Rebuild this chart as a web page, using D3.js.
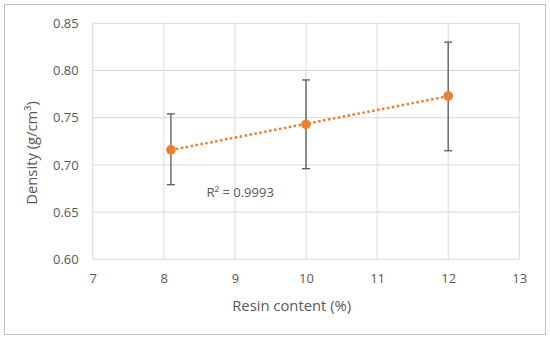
<!DOCTYPE html>
<html>
<head>
<meta charset="utf-8">
<title>density</title>
<script src="https://cdn.jsdelivr.net/npm/d3@7/dist/d3.min.js"></script>
<style>
body { margin: 0; background: #fff; }
text { font-family: "Open Sans", "Liberation Sans", sans-serif; fill: #595959; }
</style>
</head>
<body>
<svg width="550" height="340"></svg>
<script>

// data
var resin = [8.1, 10, 12];
var density = [0.716, 0.743, 0.773];
var errTop = [0.754, 0.790, 0.830];
var errBottom = [0.679, 0.696, 0.715];
var xTicks = [7, 8, 9, 10, 11, 12, 13];
var yTicks = [0.60, 0.65, 0.70, 0.75, 0.80, 0.85];
var r2Label = "R\u00b2 = 0.9993";

var svg = d3.select("svg");

var x = d3.scaleLinear().domain([7, 13]).range([92.7, 519.3]);
var y = d3.scaleLinear().domain([0.60, 0.85]).range([259.3, 23.3]);

// chart border
svg.append("rect")
.attr("x", 4.5).attr("y", 4.5)
.attr("width", 541).attr("height", 330)
.attr("fill", "#fff")
.attr("stroke", "#bfbfbf")
.attr("stroke-width", 1);

// gridlines
svg.append("g").selectAll("line.v")
.data(xTicks)
.enter().append("line")
.attr("x1", function(d) { return x(d); })
.attr("x2", function(d) { return x(d); })
.attr("y1", y(0.60)).attr("y2", y(0.85))
.attr("stroke", "#d9d9d9").attr("stroke-width", 1);

svg.append("g").selectAll("line.h")
.data(yTicks)
.enter().append("line")
.attr("x1", x(7)).attr("x2", x(13))
.attr("y1", function(d) { return y(d); })
.attr("y2", function(d) { return y(d); })
.attr("stroke", "#d9d9d9").attr("stroke-width", 1);

// axes (labels only, lines hidden)
var xAxis = svg.append("g")
.attr("transform", "translate(0," + y(0.60) + ")")
.call(d3.axisBottom(x).tickValues(xTicks).tickSize(0).tickPadding(14).tickFormat(d3.format("d")));
var yAxis = svg.append("g")
.attr("transform", "translate(" + x(7) + ",0)")
.call(d3.axisLeft(y).tickValues(yTicks).tickSize(0).tickPadding(14).tickFormat(d3.format(".2f")));
[xAxis, yAxis].forEach(function(a) {
a.select(".domain").remove();
a.selectAll("text").attr("font-size", 13).attr("fill", "#595959")
.style("font-family", "'Open Sans', 'Liberation Sans', sans-serif");
});

// axis titles
svg.append("text")
.attr("x", 291.7).attr("y", 311)
.attr("text-anchor", "middle")
.attr("font-size", 14.8)
.text("Resin content (%)");

svg.append("text")
.attr("transform", "translate(37,153) rotate(-90)")
.attr("text-anchor", "middle")
.attr("font-size", 14.8)
.text("Density (g/cm\u00b3)");

// linear trendline through the points
var n = resin.length;
var mx = d3.mean(resin), my = d3.mean(density);
var sxy = 0, sxx = 0;
for (var i = 0; i < n; i++) {
sxy += (resin[i] - mx) * (density[i] - my);
sxx += (resin[i] - mx) * (resin[i] - mx);
}
var slope = sxy / sxx;
var icpt = my - slope * mx;
var x0 = d3.min(resin), x1 = d3.max(resin);

svg.append("line")
.attr("x1", x(x0)).attr("y1", y(icpt + slope * x0))
.attr("x2", x(x1)).attr("y2", y(icpt + slope * x1))
.attr("stroke", "#ed7d31")
.attr("stroke-width", 2.5)
.attr("stroke-dasharray", "2.5,2.5");

// error bars
var eb = svg.append("g").attr("stroke", "#595959").attr("stroke-width", 1.3);
resin.forEach(function(r, k) {
eb.append("line").attr("x1", x(r)).attr("x2", x(r)).attr("y1", y(errTop[k])).attr("y2", y(errBottom[k]));
eb.append("line").attr("x1", x(r) - 4).attr("x2", x(r) + 4).attr("y1", y(errTop[k])).attr("y2", y(errTop[k]));
eb.append("line").attr("x1", x(r) - 4).attr("x2", x(r) + 4).attr("y1", y(errBottom[k])).attr("y2", y(errBottom[k]));
});

// points
svg.append("g").selectAll("circle")
.data(resin)
.enter().append("circle")
.attr("cx", function(d) { return x(d); })
.attr("cy", function(d, k) { return y(density[k]); })
.attr("r", 4.8)
.attr("fill", "#ed7d31");

// R squared label
svg.append("text")
.attr("x", 206.5).attr("y", 197)
.attr("font-size", 13)
.text(r2Label);

</script>
</body>
</html>
